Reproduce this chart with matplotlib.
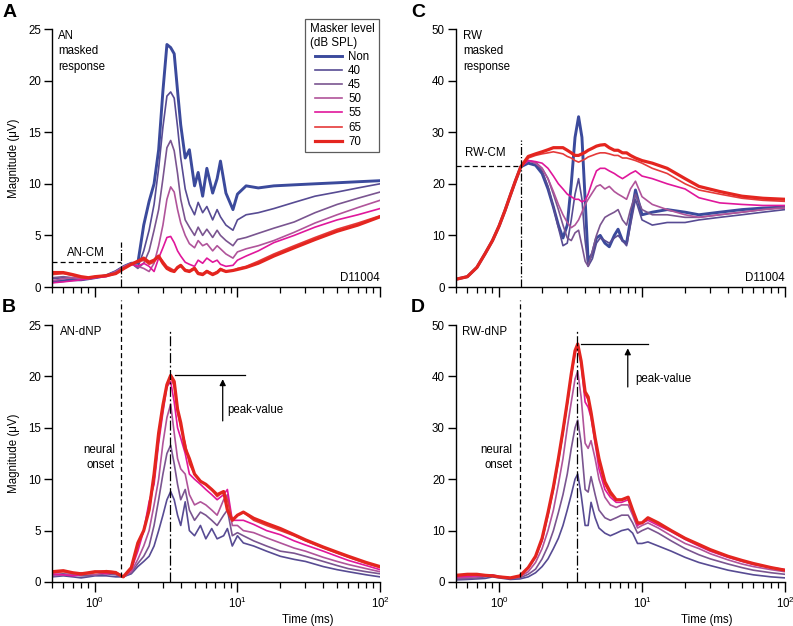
import matplotlib
matplotlib.use("Agg")
import matplotlib.pyplot as plt
from matplotlib.ticker import LogLocator, NullFormatter, LogFormatterSciNotation

plt.rcParams['font.family'] = ['Liberation Sans', 'DejaVu Sans']
plt.rcParams['mathtext.fontset'] = 'custom'
plt.rcParams['mathtext.rm'] = 'Liberation Sans'

levels = ['Non', '40', '45', '50', '55', '65', '70']
colors = ['#3b4a9c', '#574b93', '#7a5590', '#b0549a', '#e0179b', '#e53a3a', '#e4251f']
widths = [2.1, 1.2, 1.2, 1.2, 1.2, 1.2, 2.3]

# ---------- Panel A: AN masked response ----------
tA = [0.5, 0.6, 0.7, 0.8, 0.9, 1.0, 1.2, 1.4, 1.6, 1.8, 2.0, 2.2, 2.4, 2.6, 2.8, 3.0, 3.2, 3.4,
      3.6, 3.8, 4.0, 4.3, 4.6, 5.0, 5.3, 5.7, 6.1, 6.7, 7.2, 7.6, 8.3, 9.3, 10, 11.5, 14, 18, 25,
      35, 50, 70, 100]
A_non = [0.5, 0.6, 0.7, 0.7, 0.8, 0.9, 1.1, 1.5, 2.0, 2.3, 2.3, 6.0, 8.3, 10.0, 13.3, 19.0, 23.5,
         23.2, 22.6, 19.0, 15.7, 12.5, 13.3, 9.8, 11.1, 8.8, 11.5, 9.1, 10.5, 12.2, 9.1, 7.5, 9.0,
         9.8, 9.6, 9.8, 9.9, 10.0, 10.1, 10.2, 10.3]
A_40 = [0.8, 0.9, 0.8, 0.7, 0.8, 0.9, 1.1, 1.5, 2.0, 2.3, 1.9, 3.5, 5.5, 8.0, 11.5, 15.5, 18.5,
        18.9, 18.3, 15.5, 12.5, 9.5, 8.0, 7.0, 8.2, 7.2, 7.8, 6.5, 7.5, 6.8, 6.0, 5.5, 6.5, 7.0,
        7.2, 7.6, 8.2, 8.8, 9.2, 9.6, 10.0]
A_45 = [0.9, 1.0, 0.9, 0.8, 0.8, 0.9, 1.1, 1.5, 2.0, 2.3, 1.8, 2.3, 3.5, 5.5, 7.5, 10.5, 13.5,
        14.2, 13.2, 11.0, 8.5, 6.5, 5.8, 5.0, 5.8, 5.0, 5.6, 4.8, 5.5, 5.0, 4.5, 4.0, 4.6, 4.8,
        5.2, 5.7, 6.3, 7.2, 8.0, 8.6, 9.2]
A_50 = [0.6, 0.8, 0.9, 0.8, 0.8, 0.9, 1.1, 1.5, 2.0, 2.3, 2.0, 1.8, 1.5, 2.3, 4.0, 6.0, 8.5, 9.7,
        9.2, 7.5, 6.2, 5.0, 4.2, 3.8, 4.5, 4.0, 4.2, 3.5, 4.0, 3.7, 3.2, 2.8, 3.4, 3.7, 4.0, 4.5,
        5.3, 6.2, 7.0, 7.7, 8.4]
A_55 = [0.4, 0.5, 0.6, 0.7, 0.8, 0.9, 1.0, 1.3, 1.8, 2.2, 2.0, 2.3, 2.0, 1.5, 2.8, 3.8, 4.8, 4.9,
        4.3, 3.5, 3.0, 2.4, 2.2, 2.0, 2.6, 2.3, 2.8, 2.4, 2.6, 2.2, 2.0, 2.1, 2.6, 3.0, 3.5, 4.3,
        5.0, 5.8, 6.5, 7.0, 7.6]
A_65 = [1.2, 1.3, 1.1, 0.9, 0.9, 1.0, 1.1, 1.3, 1.8, 2.2, 2.4, 2.6, 2.2, 2.4, 3.0, 2.5, 2.0, 1.8,
        1.6, 1.8, 2.0, 1.7, 1.6, 1.9, 1.4, 1.3, 1.6, 1.3, 1.5, 1.8, 1.5, 1.6, 1.8, 2.0, 2.5, 3.2,
        4.0, 4.8, 5.6, 6.2, 6.9]
A_70 = [1.4, 1.4, 1.2, 1.0, 0.9, 1.0, 1.1, 1.3, 1.8, 2.2, 2.5, 2.8, 2.4, 2.6, 3.0, 2.3, 1.8, 1.6,
        1.5, 1.9, 2.1, 1.6, 1.5, 1.8, 1.3, 1.2, 1.5, 1.2, 1.4, 1.7, 1.5, 1.6, 1.7, 1.9, 2.3, 3.0,
        3.8, 4.6, 5.4, 6.0, 6.8]

# ---------- Panel C: RW masked response ----------
tC = [0.5, 0.6, 0.7, 0.8, 0.9, 1.0, 1.1, 1.2, 1.3, 1.42, 1.6, 1.8, 2.0, 2.2, 2.4, 2.6, 2.8, 3.0,
      3.2, 3.4, 3.6, 3.8, 4.0, 4.2, 4.5, 4.8, 5.1, 5.5, 5.9, 6.4, 6.8, 7.3, 7.8, 8.3, 9.0, 10,
      11.8, 15, 20, 25, 35, 50, 70, 100]
C_rise = [1.5, 2.0, 3.8, 6.5, 9.0, 11.8, 14.8, 17.8, 20.5, 23.3]
C_non = C_rise + [24.0, 23.6, 22.0, 19.0, 15.5, 12.0, 9.5, 12.0, 20.0, 29.0, 33.0, 29.0, 17.0,
                  5.0, 6.5, 9.5, 10.0, 8.5, 7.8, 10.0, 11.2, 9.0, 8.5, 13.0, 18.8, 14.0, 14.5,
                  15.0, 14.5, 14.0, 14.5, 15.0, 15.3, 15.5]
C_40 = C_rise + [24.5, 24.0, 22.5, 19.5, 15.5, 11.5, 8.0, 8.5, 13.0, 18.0, 21.0, 17.0, 9.0, 4.0,
                 5.5, 8.5, 9.5, 9.0, 8.5, 9.5, 10.0, 9.0, 8.0, 12.0, 17.0, 13.0, 12.0, 12.5,
                 12.5, 13.0, 13.5, 14.0, 14.5, 15.0]
C_45 = C_rise + [24.5, 24.2, 23.0, 21.0, 18.0, 15.0, 12.0, 9.5, 9.0, 10.5, 11.0, 8.0, 5.0, 4.0,
                 7.0, 10.0, 12.0, 13.5, 14.0, 14.5, 15.0, 13.0, 12.0, 15.0, 18.0, 15.0, 14.0,
                 14.0, 13.5, 13.5, 14.0, 14.5, 15.0, 15.5]
C_50 = C_rise + [24.5, 24.0, 23.0, 21.0, 18.5, 16.0, 14.0, 12.5, 11.5, 12.0, 13.0, 14.5, 16.0,
                 17.0, 18.3, 19.5, 19.8, 19.0, 19.5, 18.5, 18.0, 17.5, 17.0, 19.0, 20.5, 17.5,
                 16.0, 15.0, 14.0, 13.5, 14.0, 14.5, 15.0, 15.3]
C_55 = C_rise + [24.5, 24.3, 24.0, 23.0, 21.5, 20.0, 19.0, 18.0, 17.5, 17.0, 17.0, 16.5, 16.8,
                 18.0, 20.5, 22.5, 23.0, 23.0, 22.5, 22.0, 21.5, 21.0, 21.5, 22.0, 22.5, 21.5,
                 21.0, 20.0, 19.0, 17.3, 16.3, 16.0, 15.8, 15.8]
C_65 = C_rise + [25.0, 25.5, 25.8, 26.0, 26.2, 26.0, 25.8, 25.3, 25.0, 24.5, 24.2, 24.5, 24.8,
                 25.2, 25.5, 25.8, 26.0, 26.0, 25.8, 25.5, 25.5, 25.0, 25.0, 24.8, 24.5, 24.0,
                 23.0, 22.0, 20.0, 18.8, 18.0, 17.2, 16.8, 16.6]
C_70 = C_rise + [25.3, 25.8, 26.2, 26.6, 27.0, 27.0, 27.0, 26.5, 26.0, 25.5, 25.5, 25.8, 26.1,
                 26.5, 26.9, 27.3, 27.5, 27.6, 27.0, 26.5, 26.5, 26.0, 26.0, 25.5, 25.0, 24.5,
                 24.0, 23.0, 21.0, 19.5, 18.5, 17.6, 17.2, 17.0]

# ---------- Panel B: AN-dNP ----------
tB = [0.5, 0.6, 0.7, 0.8, 0.9, 1.0, 1.2, 1.4, 1.58, 1.8, 2.0, 2.2, 2.4, 2.6, 2.8, 3.0, 3.2, 3.4,
      3.6, 3.8, 4.0, 4.3, 4.6, 5.0, 5.5, 6.0, 6.6, 7.2, 8.0, 8.5, 9.2, 10, 11, 13, 16, 20, 25, 30,
      40, 50, 60, 80, 100]
B_40 = [0.5, 0.6, 0.5, 0.4, 0.5, 0.6, 0.6, 0.5, 0.5, 0.8, 1.5, 2.0, 2.5, 3.5, 5.0, 6.5, 8.0, 8.8,
        8.0, 6.5, 5.5, 7.8, 5.0, 4.5, 5.5, 4.2, 5.2, 4.2, 4.5, 5.2, 3.5, 4.5, 3.8, 3.5, 3.0, 2.5,
        2.2, 2.0, 1.5, 1.2, 1.0, 0.7, 0.5]
B_45 = [0.7, 0.8, 0.7, 0.6, 0.6, 0.7, 0.8, 0.7, 0.5, 0.9, 1.8, 2.5, 3.5, 5.5, 8.0, 10.5, 12.5,
        13.3, 11.5, 9.5, 8.0, 9.0, 7.0, 6.0, 6.8, 6.5, 6.0, 5.5, 6.5, 7.0, 4.5, 4.8, 4.5, 4.0,
        3.5, 3.0, 2.8, 2.5, 2.0, 1.6, 1.3, 1.0, 0.8]
B_50 = [0.6, 0.7, 0.8, 0.9, 0.8, 0.7, 0.9, 0.8, 0.5, 1.0, 2.2, 3.5, 5.0, 7.5, 10.0, 13.5, 16.0,
        17.3, 14.5, 12.0, 11.0, 10.5, 8.5, 7.5, 7.8, 7.5, 7.0, 6.5, 8.0, 8.5, 5.5, 5.5, 5.0, 4.8,
        4.3, 3.8, 3.3, 3.0, 2.4, 2.0, 1.7, 1.3, 1.0]
B_55 = [0.8, 0.7, 0.6, 0.7, 0.9, 1.0, 0.8, 0.9, 0.5, 1.2, 3.0, 5.0, 7.8, 9.5, 13.5, 16.5, 19.0,
        19.5, 17.5, 15.0, 14.0, 12.5, 10.5, 10.0, 9.5, 9.0, 8.5, 8.0, 8.5, 9.0, 6.0, 6.0, 6.0,
        5.6, 5.0, 4.6, 4.0, 3.6, 3.0, 2.5, 2.1, 1.6, 1.2]
B_65 = [0.9, 1.0, 0.9, 0.7, 0.8, 0.9, 1.1, 1.0, 0.5, 1.3, 3.5, 5.0, 7.0, 10.0, 14.0, 17.0, 19.2,
        20.0, 19.0, 16.5, 15.0, 13.5, 11.5, 10.5, 9.8, 9.5, 9.0, 8.3, 8.8, 8.0, 6.0, 6.5, 6.8,
        6.0, 5.5, 5.0, 4.5, 4.0, 3.3, 2.8, 2.4, 1.8, 1.4]
B_70 = [1.0, 1.1, 0.9, 0.8, 0.9, 1.0, 1.0, 0.9, 0.5, 1.4, 3.8, 5.0, 7.0, 10.5, 14.5, 17.2, 19.2,
        20.1, 19.5, 16.8, 15.5, 13.0, 12.0, 10.5, 9.8, 9.5, 9.0, 8.5, 8.8, 7.0, 6.0, 6.5, 6.8,
        6.2, 5.7, 5.2, 4.6, 4.1, 3.4, 2.9, 2.5, 1.9, 1.5]

# ---------- Panel D: RW-dNP ----------
tD = [0.5, 0.6, 0.7, 0.8, 0.9, 1.0, 1.2, 1.4, 1.6, 1.8, 2.0, 2.2, 2.4, 2.6, 2.8, 3.0, 3.2, 3.4,
      3.55, 3.75, 4.0, 4.2, 4.4, 4.7, 5.0, 5.5, 6.0, 6.6, 7.2, 8.0, 8.6, 9.3, 10, 11, 13, 16, 20,
      25, 30, 40, 50, 60, 80, 100]
D_40 = [0.4, 0.5, 0.6, 0.7, 1.0, 0.8, 0.5, 0.6, 1.0, 1.8, 3.0, 4.5, 6.5, 8.5, 11.0, 14.0, 17.0,
        20.0, 21.0, 17.0, 11.0, 11.0, 15.5, 12.5, 10.5, 9.5, 9.0, 9.5, 10.0, 10.3, 9.5, 7.5, 7.5,
        7.8, 7.0, 6.0, 4.8, 3.8, 3.2, 2.3, 1.8, 1.4, 1.0, 0.8]
D_45 = [0.6, 0.7, 0.8, 1.0, 1.3, 1.0, 0.7, 0.8, 1.5, 2.5, 4.5, 7.0, 10.0, 13.5, 17.0, 21.0, 26.0,
        30.0, 31.5, 27.0, 18.0, 17.5, 20.5, 17.0, 14.0, 12.5, 12.0, 12.5, 13.0, 13.0, 11.5, 9.5,
        10.0, 10.5, 9.5, 8.0, 6.5, 5.3, 4.5, 3.5, 2.8, 2.3, 1.8, 1.5]
D_50 = [0.8, 0.9, 1.0, 1.2, 1.4, 1.1, 0.8, 1.0, 2.0, 3.8, 6.5, 10.0, 14.0, 19.0, 24.0, 30.0,
        35.0, 39.5, 41.0, 36.0, 27.0, 26.0, 27.5, 24.0, 20.0, 16.5, 15.0, 14.5, 15.0, 15.0, 13.0,
        10.5, 11.0, 11.5, 10.5, 9.0, 7.5, 6.5, 5.5, 4.3, 3.5, 3.0, 2.4, 2.0]
D_55 = [1.0, 1.1, 1.2, 1.2, 1.3, 1.0, 0.8, 1.1, 2.7, 4.8, 8.0, 13.0, 18.0, 23.5, 29.0, 34.5,
        40.0, 44.5, 46.0, 42.5, 35.0, 34.0, 32.0, 27.0, 22.0, 18.0, 16.5, 15.5, 15.5, 16.0, 13.5,
        11.0, 11.5, 12.0, 11.0, 9.8, 8.3, 7.0, 6.0, 4.8, 4.0, 3.4, 2.8, 2.4]
D_65 = [1.2, 1.4, 1.4, 1.3, 1.2, 1.0, 0.8, 1.2, 2.8, 5.0, 8.3, 13.3, 18.3, 23.8, 29.3, 34.8,
        40.3, 44.8, 46.2, 43.0, 36.5, 35.5, 33.0, 28.0, 23.5, 19.0, 17.0, 16.0, 16.0, 16.5, 14.0,
        11.5, 11.5, 12.5, 11.3, 10.0, 8.5, 7.2, 6.2, 5.0, 4.1, 3.5, 2.8, 2.3]
D_70 = [1.3, 1.5, 1.5, 1.3, 1.2, 1.0, 0.8, 1.2, 2.8, 5.0, 8.5, 13.5, 18.5, 24.0, 29.5, 35.0,
        40.5, 45.0, 46.3, 43.0, 37.0, 36.0, 33.0, 28.0, 24.0, 19.5, 17.5, 16.0, 16.0, 16.5, 14.0,
        11.5, 11.5, 12.5, 11.5, 10.0, 8.5, 7.3, 6.3, 5.0, 4.2, 3.6, 2.8, 2.3]

W, H = 793, 626
fig = plt.figure(figsize=(W / 100, H / 100), dpi=100)


def px_axes(x0, x1, ytop, ybot):
    return fig.add_axes([x0 / W, (H - ybot) / H, (x1 - x0) / W, (ybot - ytop) / H])


axA = px_axes(52, 380, 29, 287)
axB = px_axes(52, 380, 325, 582)
axC = px_axes(456, 785, 29, 287)
axD = px_axes(456, 785, 325, 582)

FS = 8.3


def style(ax, ymax, ystep, show_xlabels):
    ax.set_xscale('log')
    ax.set_xlim(0.5, 100)
    ax.set_ylim(0, ymax)
    ax.set_yticks(list(range(0, ymax + 1, ystep)))
    for s in ['top', 'right']:
        ax.spines[s].set_visible(False)
    for s in ['left', 'bottom']:
        ax.spines[s].set_linewidth(1.0)
    ax.xaxis.set_major_locator(LogLocator(base=10, numticks=10))
    ax.xaxis.set_minor_locator(LogLocator(base=10, subs=range(2, 10), numticks=20))
    ax.xaxis.set_minor_formatter(NullFormatter())
    if show_xlabels:
        ax.xaxis.set_major_formatter(LogFormatterSciNotation())
    else:
        ax.xaxis.set_major_formatter(NullFormatter())
    ax.tick_params(axis='x', which='major', length=7, width=1.0, labelsize=FS, pad=3)
    ax.tick_params(axis='x', which='minor', length=4.5, width=0.9)
    ax.tick_params(axis='y', which='major', length=6, width=1.0, labelsize=FS, pad=2)


seriesA = [A_non, A_40, A_45, A_50, A_55, A_65, A_70]
for vals, c, lw, lab in zip(seriesA, colors, widths, levels):
    axA.plot(tA, vals, color=c, lw=lw, label=lab)
seriesC = [C_non, C_40, C_45, C_50, C_55, C_65, C_70]
for vals, c, lw in zip(seriesC, colors, widths):
    axC.plot(tC, vals, color=c, lw=lw)
seriesB = [B_40, B_45, B_50, B_55, B_65, B_70]
for vals, c, lw in zip(seriesB, colors[1:], widths[1:]):
    axB.plot(tB, vals, color=c, lw=lw)
seriesD = [D_40, D_45, D_50, D_55, D_65, D_70]
for vals, c, lw in zip(seriesD, colors[1:], widths[1:]):
    axD.plot(tD, vals, color=c, lw=lw)

style(axA, 25, 5, False)
style(axB, 25, 5, True)
style(axC, 50, 10, False)
style(axD, 50, 10, True)

axA.set_ylabel('Magnitude (μV)', fontsize=FS, labelpad=6)
axB.set_ylabel('Magnitude (μV)', fontsize=FS, labelpad=6)

k = 'black'
# Panel A annotations
axA.text(0.018, 0.995, 'AN\nmasked\nresponse', transform=axA.transAxes, va='top', ha='left',
         fontsize=FS, linespacing=1.35)
axA.plot([0.5, 1.53], [2.4, 2.4], ls=(0, (4, 2.5)), color=k, lw=0.9)
axA.plot([1.53, 1.53], [0, 4.4], ls='-.', color=k, lw=0.9)
axA.text(0.86, 3.3, 'AN-CM', ha='center', va='center', fontsize=FS)
axA.text(1.0, 0.035, 'D11004', transform=axA.transAxes, ha='right', va='center', fontsize=FS)

leg = axA.legend(title='Masker level\n(dB SPL)', loc='upper right', bbox_to_anchor=(0.997, 1.04),
                 borderaxespad=0, fontsize=FS, title_fontsize=FS, frameon=True, fancybox=False,
                 handlelength=2.4, handletextpad=0.5, labelspacing=0.18, borderpad=0.4,
                 alignment='center')
leg.get_frame().set_edgecolor('#333333')
leg.get_frame().set_linewidth(0.9)

# Panel C annotations
axC.text(0.022, 0.995, 'RW\nmasked\nresponse', transform=axC.transAxes, va='top', ha='left',
         fontsize=FS, linespacing=1.35)
axC.plot([0.5, 1.42], [23.5, 23.5], ls=(0, (4, 2.5)), color=k, lw=0.9)
axC.plot([1.42, 1.42], [0, 28.5], ls='-.', color=k, lw=0.9)
axC.text(0.8, 26.0, 'RW-CM', ha='center', va='center', fontsize=FS)
axC.text(1.0, 0.035, 'D11004', transform=axC.transAxes, ha='right', va='center', fontsize=FS)

# Panel B annotations
axB.text(0.024, 0.995, 'AN-dNP', transform=axB.transAxes, va='top', ha='left', fontsize=FS)
axB.plot([1.53, 1.53], [0.5, 27.4], ls=(0, (4, 2.5)), color=k, lw=0.9, clip_on=False)
axB.plot([3.36, 3.36], [0, 24.5], ls=(0, (8, 2, 1.5, 2)), color=k, lw=0.9)
axB.plot([3.64, 11.3], [20.1, 20.1], color=k, lw=0.9)
axB.annotate('', xy=(7.88, 20.0), xytext=(7.88, 15.4),
             arrowprops=dict(arrowstyle='-|>', color=k, lw=0.9, mutation_scale=9))
axB.text(8.55, 16.7, 'peak-value', ha='left', va='center', fontsize=FS)
axB.text(1.38, 12.1, 'neural\nonset', ha='right', va='center', fontsize=FS, linespacing=1.35,
         multialignment='right')

# Panel D annotations
axD.text(0.018, 0.995, 'RW-dNP', transform=axD.transAxes, va='top', ha='left', fontsize=FS)
axD.plot([1.40, 1.40], [1.0, 54.9], ls=(0, (4, 2.5)), color=k, lw=0.9, clip_on=False)
axD.plot([3.5, 3.5], [0, 49], ls=(0, (8, 2, 1.5, 2)), color=k, lw=0.9)
axD.plot([3.74, 11.0], [46.3, 46.3], color=k, lw=0.9)
axD.annotate('', xy=(7.95, 46.0), xytext=(7.95, 37.4),
             arrowprops=dict(arrowstyle='-|>', color=k, lw=0.9, mutation_scale=9))
axD.text(8.9, 39.5, 'peak-value', ha='left', va='center', fontsize=FS)
axD.text(1.24, 24.3, 'neural\nonset', ha='right', va='center', fontsize=FS, linespacing=1.35,
         multialignment='right')

# x labels
fig.text(308 / W, 1 - 620 / H, 'Time (ms)', ha='center', va='center', fontsize=FS)
fig.text(707 / W, 1 - 620 / H, 'Time (ms)', ha='center', va='center', fontsize=FS)

# panel letters
for lab, x, y in [('A', 3, 4), ('B', 2, 299), ('C', 411, 4), ('D', 411, 299)]:
    fig.text(x / W, 1 - y / H, lab, ha='left', va='top', fontsize=14, fontweight='bold')

fig.savefig('out.png', dpi=100)
